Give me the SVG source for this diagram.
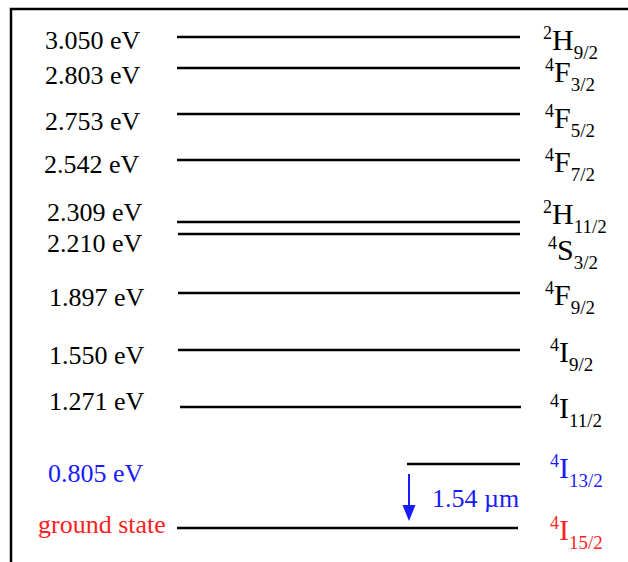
<svg xmlns="http://www.w3.org/2000/svg" width="628" height="562" viewBox="0 0 628 562">
<style>
.lvl{stroke:#000;stroke-width:2.5;fill:none}
text{font-family:"Liberation Serif","Times New Roman",Times,serif}
.t{font-size:26px;fill:#000}
.r{font-size:30px;fill:#000}
.sup{font-size:18px}
.sub{font-size:19px}
.blue{fill:#1a1aff}
.red{fill:#ff2020}
</style>
<rect x="0" y="0" width="628" height="562" fill="#fff"/>
<path d="M11,562 V9 H628" stroke="#000" stroke-width="2.5" fill="none"/>
<g id="connectors">
<line class="lvl" x1="177" y1="37" x2="520" y2="37"/>
<line class="lvl" x1="177" y1="68" x2="520" y2="68"/>
<line class="lvl" x1="177" y1="114" x2="520" y2="114"/>
<line class="lvl" x1="177" y1="160" x2="520" y2="160"/>
<line class="lvl" x1="177" y1="222" x2="520" y2="222"/>
<line class="lvl" x1="178" y1="234" x2="520" y2="234"/>
<line class="lvl" x1="178" y1="293" x2="520" y2="293"/>
<line class="lvl" x1="178" y1="350" x2="520" y2="350"/>
<line class="lvl" x1="180" y1="407" x2="521" y2="407"/>
<line class="lvl" x1="407" y1="464" x2="520" y2="464"/>
<line class="lvl" x1="177" y1="528" x2="518" y2="528"/>
<line x1="409" y1="474" x2="409" y2="506" stroke="#1a1aff" stroke-width="2"/>
<polygon points="402.5,505 415.5,505 409,521" fill="#1a1aff"/>
</g>
<g id="l3050" font-family="Liberation Serif, serif"><text class="t" x="45" y="49">3.050 eV</text><text class="r" x="543" y="50"><tspan class="sup" dy="-11">2</tspan><tspan dy="11">H</tspan><tspan class="sub" dy="9">9/2</tspan></text></g>
<g id="l2803" font-family="Liberation Serif, serif"><text class="t" x="45" y="84">2.803 eV</text><text class="r" x="545" y="82"><tspan class="sup" dy="-11">4</tspan><tspan dy="11">F</tspan><tspan class="sub" dy="9">3/2</tspan></text></g>
<g id="l2753" font-family="Liberation Serif, serif"><text class="t" x="45" y="130">2.753 eV</text><text class="r" x="545" y="128"><tspan class="sup" dy="-11">4</tspan><tspan dy="11">F</tspan><tspan class="sub" dy="9">5/2</tspan></text></g>
<g id="l2542" font-family="Liberation Serif, serif"><text class="t" x="44" y="173">2.542 eV</text><text class="r" x="545" y="172"><tspan class="sup" dy="-11">4</tspan><tspan dy="11">F</tspan><tspan class="sub" dy="9">7/2</tspan></text></g>
<g id="l2309" font-family="Liberation Serif, serif"><text class="t" x="47" y="221">2.309 eV</text><text class="r" x="543" y="224"><tspan class="sup" dy="-11">2</tspan><tspan dy="11">H</tspan><tspan class="sub" dy="9">11/2</tspan></text></g>
<g id="l2210" font-family="Liberation Serif, serif"><text class="t" x="47" y="252">2.210 eV</text><text class="r" x="548" y="260"><tspan class="sup" dy="-11">4</tspan><tspan dy="11">S</tspan><tspan class="sub" dy="9">3/2</tspan></text></g>
<g id="l1897" font-family="Liberation Serif, serif"><text class="t" x="49" y="306">1.897 eV</text><text class="r" x="545" y="305"><tspan class="sup" dy="-11">4</tspan><tspan dy="11">F</tspan><tspan class="sub" dy="9">9/2</tspan></text></g>
<g id="l1550" font-family="Liberation Serif, serif"><text class="t" x="49" y="364">1.550 eV</text><text class="r" x="550" y="362"><tspan class="sup" dy="-11">4</tspan><tspan dy="11">I</tspan><tspan class="sub" dy="9">9/2</tspan></text></g>
<g id="l1271" font-family="Liberation Serif, serif"><text class="t" x="49" y="410">1.271 eV</text><text class="r" x="550" y="418"><tspan class="sup" dy="-11">4</tspan><tspan dy="11">I</tspan><tspan class="sub" dy="9">11/2</tspan></text></g>
<g id="l0805" font-family="Liberation Serif, serif"><text class="t blue" x="48" y="482">0.805 eV</text><text class="r blue" x="550" y="478"><tspan class="sup" dy="-11">4</tspan><tspan dy="11">I</tspan><tspan class="sub" dy="9">13/2</tspan></text></g>
<g id="lground" font-family="Liberation Serif, serif"><text class="t red" x="38" y="533">ground state</text><text class="r red" x="550" y="540"><tspan class="sup" dy="-11">4</tspan><tspan dy="11">I</tspan><tspan class="sub" dy="9">15/2</tspan></text></g>
<g id="wavelength" font-family="Liberation Serif, serif"><text class="t blue" x="432" y="507">1.54 µm</text></g>
</svg>
